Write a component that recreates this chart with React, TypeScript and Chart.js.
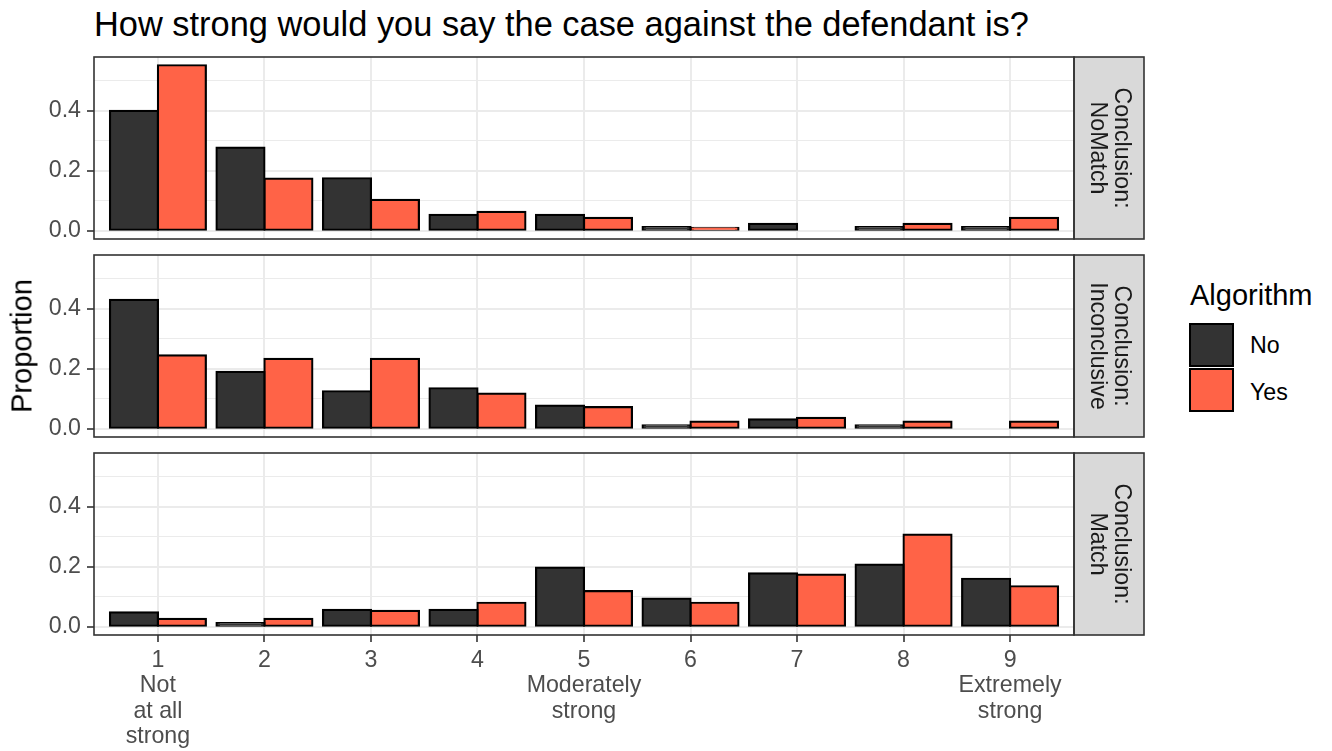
import React, { useEffect, useRef } from "react";
import { Chart, registerables } from "chart.js";

Chart.register(...registerables);

// ---------- data ----------
const categories = [1, 2, 3, 4, 5, 6, 7, 8, 9];
const xTickLabels: string[][] = [
  ["1", "Not", "at all", "strong"],
  ["2"],
  ["3"],
  ["4"],
  ["5", "Moderately", "strong"],
  ["6"],
  ["7"],
  ["8"],
  ["9", "Extremely", "strong"],
];
const yTicks = [0, 0.1, 0.2, 0.3, 0.4, 0.5];
const yMajorTicks = [0, 0.2, 0.4];
const groupNames = ["No", "Yes"];
const groupColors = ["#333333", "#FF6347"];
const facetLabels = [
  ["Conclusion:", "NoMatch"],
  ["Conclusion:", "Inconclusive"],
  ["Conclusion:", "Match"],
];

const noMatchNo = [0.4, 0.277, 0.175, 0.053, 0.053, 0.012, 0.023, 0.012, 0.012];
const noMatchYes = [0.552, 0.174, 0.103, 0.063, 0.043, 0.01, null, 0.023, 0.043];
const inconclusiveNo = [0.43, 0.19, 0.125, 0.135, 0.077, 0.011, 0.031, 0.011, null];
const inconclusiveYes = [0.245, 0.233, 0.233, 0.117, 0.072, 0.024, 0.036, 0.024, 0.024];
const matchNo = [0.048, 0.012, 0.056, 0.056, 0.197, 0.094, 0.178, 0.207, 0.16];
const matchYes = [0.026, 0.026, 0.053, 0.08, 0.119, 0.08, 0.174, 0.307, 0.135];

const panelSeries = [
  [noMatchNo, noMatchYes],
  [inconclusiveNo, inconclusiveYes],
  [matchNo, matchYes],
];

// ---------- layout ----------
const FONT = "'Liberation Sans', Arial, Helvetica, sans-serif";
const PANEL_TOPS = [57, 255, 453];
const PANEL_H = 182;
const PANEL_LEFT = 94;
const PANEL_RIGHT = 1074;
const STRIP_W = 70;
const CANVAS_W = 1150;
const PAD = 30;
const XAXIS_H = 115;

const allVals = panelSeries.flat(2).filter((v) => v !== null) as number[];
const dataMax = Math.max(...allVals);
const Y_MIN = -0.05 * dataMax;
const Y_MAX = dataMax * 1.05;

const panelPlugin = {
  id: "panelDecor",
  afterDraw(chart: any) {
    const { ctx, chartArea: a } = chart;
    const strip: string[] = chart.options.plugins.panelDecor.strip;
    ctx.save();
    // strip
    ctx.fillStyle = "#D9D9D9";
    ctx.fillRect(a.right, a.top, STRIP_W, a.bottom - a.top);
    ctx.strokeStyle = "#333333";
    ctx.lineWidth = 1.6;
    ctx.strokeRect(a.right, a.top, STRIP_W, a.bottom - a.top);
    // panel border
    ctx.strokeRect(a.left, a.top, a.right - a.left, a.bottom - a.top);
    // strip text
    const cx = a.right + STRIP_W / 2;
    const cy = (a.top + a.bottom) / 2;
    ctx.translate(cx, cy);
    ctx.rotate(Math.PI / 2);
    ctx.fillStyle = "#1A1A1A";
    ctx.font = `23.2px ${FONT}`;
    ctx.textAlign = "center";
    ctx.textBaseline = "middle";
    const lh = 24;
    strip.forEach((line, i) => {
      ctx.fillText(line, 0, (i - (strip.length - 1) / 2) * lh);
    });
    ctx.restore();
  },
};

function makeChart(canvas: HTMLCanvasElement, idx: number) {
  const showX = idx === 2;
  const [noVals, yesVals] = panelSeries[idx];
  const isMajor = (v: any) => yMajorTicks.includes(v);
  return new Chart(canvas, {
    type: "bar",
    data: {
      datasets: [noVals, yesVals].map((vals, g) => ({
        label: groupNames[g],
        data: categories.map((c, i) => ({ x: c, y: vals[i] })),
        backgroundColor: groupColors[g],
        borderColor: "#000000",
        borderWidth: 2.2,
        borderSkipped: false,
        inflateAmount: 1.1,
        categoryPercentage: 0.9,
        barPercentage: 1.0,
        grouped: true,
      })),
    },
    options: {
      responsive: false,
      animation: false,
      events: [],
      layout: {
        padding: {
          left: 0,
          right: CANVAS_W - PANEL_RIGHT,
          top: PAD,
          bottom: showX ? 0 : PAD,
        },
      },
      plugins: {
        legend: { display: false },
        tooltip: { enabled: false },
        title: { display: false },
        panelDecor: { strip: facetLabels[idx] },
      } as any,
      scales: {
        x: {
          type: "linear",
          min: 0.4,
          max: 9.6,
          offset: false,
          border: { display: false },
          afterBuildTicks: (s: any) => {
            s.ticks = categories.map((c) => ({ value: c }));
          },
          afterFit: (s: any) => {
            s.height = showX ? XAXIS_H : 0;
          },
          grid: {
            offset: false,
            color: "#EBEBEB",
            lineWidth: 2,
            drawTicks: showX,
            tickLength: 7,
            tickColor: "#333333",
            tickWidth: 1.6,
          },
          ticks: {
            display: showX,
            autoSkip: false,
            maxRotation: 0,
            minRotation: 0,
            padding: 5.5,
            color: "#4D4D4D",
            font: { family: FONT, size: 23.2, lineHeight: 1.1 },
            callback: (v: any) => {
              const i = categories.indexOf(v);
              return i >= 0 ? xTickLabels[i] : "";
            },
          },
        },
        y: {
          type: "linear",
          min: Y_MIN,
          max: Y_MAX,
          border: { display: false },
          afterBuildTicks: (s: any) => {
            s.ticks = yTicks.map((v) => ({ value: v }));
          },
          afterFit: (s: any) => {
            s.width = PANEL_LEFT;
          },
          grid: {
            color: "#EBEBEB",
            lineWidth: (c: any) => (isMajor(c.tick && c.tick.value) ? 2 : 1),
            tickLength: 7,
            tickColor: (c: any) =>
              isMajor(c.tick && c.tick.value) ? "#333333" : "rgba(0,0,0,0)",
            tickWidth: 1.6,
          },
          ticks: {
            padding: 6,
            color: "#4D4D4D",
            font: { family: FONT, size: 23.2 },
            callback: (v: any) => (isMajor(v) ? Number(v).toFixed(1) : ""),
          },
        },
      },
    } as any,
    plugins: [panelPlugin],
  });
}

export default function App() {
  const refs = [
    useRef<HTMLCanvasElement>(null),
    useRef<HTMLCanvasElement>(null),
    useRef<HTMLCanvasElement>(null),
  ];
  useEffect(() => {
    const charts = refs.map((r, i) => makeChart(r.current as HTMLCanvasElement, i));
    return () => charts.forEach((c) => c.destroy());
  }, []);

  const textBase: React.CSSProperties = {
    position: "absolute",
    fontFamily: FONT,
    whiteSpace: "nowrap",
    margin: 0,
  };

  return (
    <div
      style={{
        position: "absolute",
        left: 0,
        top: 0,
        width: 1332,
        height: 751,
        background: "#FFFFFF",
        overflow: "hidden",
      }}
    >
      <div
        style={{
          ...textBase,
          left: 94,
          top: 6.5,
          fontSize: 34.4,
          lineHeight: "34.4px",
          color: "#000000",
        }}
      >
        How strong would you say the case against the defendant is?
      </div>

      {refs.map((r, i) => (
        <canvas
          key={i}
          ref={r}
          width={CANVAS_W}
          height={PAD + PANEL_H + (i === 2 ? XAXIS_H : PAD)}
          style={{ position: "absolute", left: 0, top: PANEL_TOPS[i] - PAD }}
        />
      ))}

      <div
        style={{
          ...textBase,
          left: 22,
          top: (PANEL_TOPS[0] + PANEL_TOPS[2] + PANEL_H) / 2,
          fontSize: 29,
          lineHeight: "29px",
          color: "#000000",
          transform: "translate(-50%, -50%) rotate(-90deg)",
        }}
      >
        Proportion
      </div>

      <div
        style={{
          ...textBase,
          left: 1190,
          top: 280.5,
          fontSize: 29,
          lineHeight: "29px",
          color: "#000000",
        }}
      >
        Algorithm
      </div>
      {groupNames.map((g, i) => (
        <React.Fragment key={g}>
          <div
            style={{
              position: "absolute",
              left: 1189,
              top: 323 + i * 45,
              width: 45,
              height: 44,
              boxSizing: "border-box",
              border: "2px solid #000000",
              background: groupColors[i],
            }}
          />
          <div
            style={{
              ...textBase,
              left: 1250,
              top: 333.5 + i * 47,
              fontSize: 23.2,
              lineHeight: "23.2px",
              color: "#000000",
            }}
          >
            {g}
          </div>
        </React.Fragment>
      ))}
    </div>
  );
}
